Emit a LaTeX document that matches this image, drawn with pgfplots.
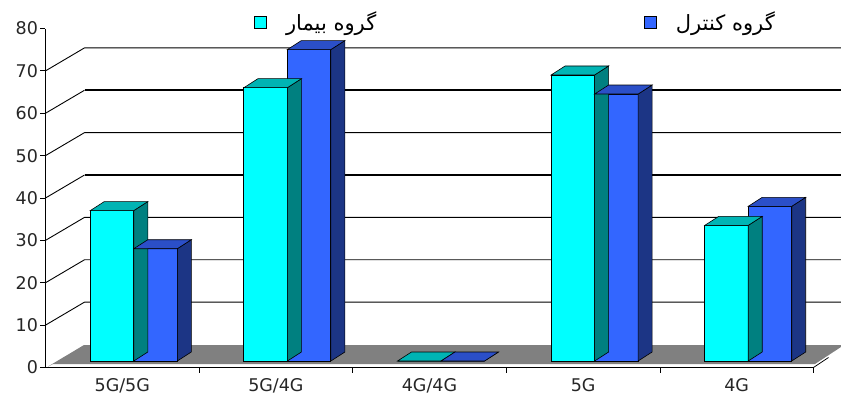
\documentclass[border=0pt]{standalone}
\usepackage{pgfplots}
\pgfplotsset{compat=1.18}
\usepackage{pgfplotstable}
\usepackage{fontspec}
\setmainfont{Liberation Sans}
\newfontfamily\tickfont{DejaVu Sans}
\newfontfamily\arabicfont[Script=Arabic]{DejaVu Sans}
\TeXXeTstate=1

\definecolor{cyanF}{HTML}{00FFFF}
\definecolor{cyanT}{HTML}{00B4B4}
\definecolor{cyanS}{HTML}{008080}
\definecolor{blueF}{HTML}{3366FF}
\definecolor{blueT}{HTML}{2B4FC8}
\definecolor{blueS}{HTML}{1C3585}
\definecolor{floorgray}{HTML}{808080}

\pgfdeclareplotmark{nothing}{}

\pgfplotsset{
  sqlegend/.style={legend image code/.code={\draw[##1, line width=0.9pt] (0pt,-6pt) rectangle (12pt,6pt);
      \draw[line width=1.6pt] (0pt,5.6pt) -- (12pt,5.6pt);}},
}

% values (percent)
\pgfplotstableread{
x   pat   ctl
0.5 35.5  26.5
1.5 64.5  73.5
2.5 0     0
3.5 67.5  63
4.5 32    36.5
}\data

\begin{document}
\begin{tikzpicture}[x=1pt,y=1pt]
\useasboundingbox (0,0) rectangle (841,400);
% floor
\fill[floorgray] (48,33.5) -- (84,55) -- (841,55) -- (841,53) -- (815,36) -- (53,36) -- cycle;

\begin{axis}[
  at={(45.5pt,32.5pt)}, anchor=origin, scale only axis,
  width=768pt, height=339pt,
  xmin=0, xmax=5, ymin=0, ymax=80,
  axis x line*=bottom, axis y line*=left,
  axis line style={black, line width=0.8pt},
  tick align=outside,
  major tick length=5pt,
  tick style={black, line width=0.8pt},
  ytick={0,10,...,80},
  xtick={1,2,3,4,5}, xticklabels={},
  extra x ticks={0.5,1.5,2.5,3.5,4.5},
  extra x tick labels={5G/5G,5G/4G,4G/4G,5G,4G},
  extra x tick style={tick style={draw=none}, tick label style={yshift=-2pt}},
  ticklabel style={font=\tickfont\fontsize{17.5}{20}\selectfont, text=black!85},
  yticklabel style={xshift=1pt},
  /pgf/number format/assume math mode=true,
  clip=false,
]
\pgfplotsinvokeforeach{10,20,30,50,70}{
  \draw[line width=0.9pt] (axis cs:0,#1) -- ++(39pt,23pt) -- ++(780pt,0pt);
}
\pgfplotsinvokeforeach{40,60}{
  \draw[line width=0.9pt] (axis cs:0,#1) -- ++(39pt,23pt);
  \draw[line width=1.8pt] (axis cs:0,#1) ++(39pt,23pt) -- ++(780pt,0pt);
}
\draw[line width=0.8pt] (axis cs:5,0) -- ++(15pt,10pt);
\end{axis}

\begin{axis}[
  at={(57pt,39pt)}, anchor=origin, scale only axis,
  width=768pt, height=339pt,
  xmin=0, xmax=5, ymin=0, ymax=80,
  hide axis, clip=false,
  legend columns=2,
  legend style={draw=none, fill=none, at={(axis description cs:0.2555,1.0)}, anchor=west,
    inner sep=0pt, font=\fontsize{21}{24}\selectfont,
    /tikz/every odd column/.append style={column sep=17pt},
    /tikz/every even column/.append style={column sep=265pt}},
]
% patient group: side + top faces
\addplot[scatter, only marks, mark=nothing, forget plot,
  visualization depends on={\thisrow{pat} \as \barval},
  scatter/@pre marker code/.code={%
    \pgfmathsetlengthmacro\barh{\barval*4.2375pt}%
    \filldraw[fill=cyanS, draw=black, line width=0.6pt] (0pt,0pt) -- ++(14pt,9pt) -- ++(0pt,-\barh) -- ++(-14pt,-9pt) -- cycle;
    \filldraw[fill=cyanT, draw=black, line width=0.6pt] (-43.5pt,0pt) -- (0pt,0pt) -- ++(14pt,9pt) -- ++(-43.5pt,0pt) -- cycle;
  },
  scatter/@post marker code/.code={},
] table[x=x, y=pat] {\data};
\addplot[ybar, bar width=43.5pt, bar shift=-21.75pt, fill=cyanF, draw=black, line width=0.9pt, forget plot]
  table[x=x, y=pat] {\data};
% control group: side + top faces
\addplot[scatter, only marks, mark=nothing, forget plot,
  visualization depends on={\thisrow{ctl} \as \barval},
  scatter/@pre marker code/.code={%
    \pgfmathsetlengthmacro\barh{\barval*4.2375pt}%
    \filldraw[fill=blueS, draw=black, line width=0.6pt] (43.5pt,0pt) -- ++(14pt,9pt) -- ++(0pt,-\barh) -- ++(-14pt,-9pt) -- cycle;
    \filldraw[fill=blueT, draw=black, line width=0.6pt] (0pt,0pt) -- (43.5pt,0pt) -- ++(14pt,9pt) -- ++(-43.5pt,0pt) -- cycle;
  },
  scatter/@post marker code/.code={},
] table[x=x, y=ctl] {\data};
\addplot[ybar, bar width=43.5pt, bar shift=21.75pt, fill=blueF, draw=black, line width=0.9pt, forget plot]
  table[x=x, y=ctl] {\data};

\addlegendimage{sqlegend, fill=cyanF, draw=black}
\addlegendentry{\arabicfont\beginR گروه بیمار\endR}
\addlegendimage{sqlegend, fill=blueF, draw=black}
\addlegendentry{\arabicfont\beginR گروه کنترل\endR}
\end{axis}
\end{tikzpicture}
\end{document}
